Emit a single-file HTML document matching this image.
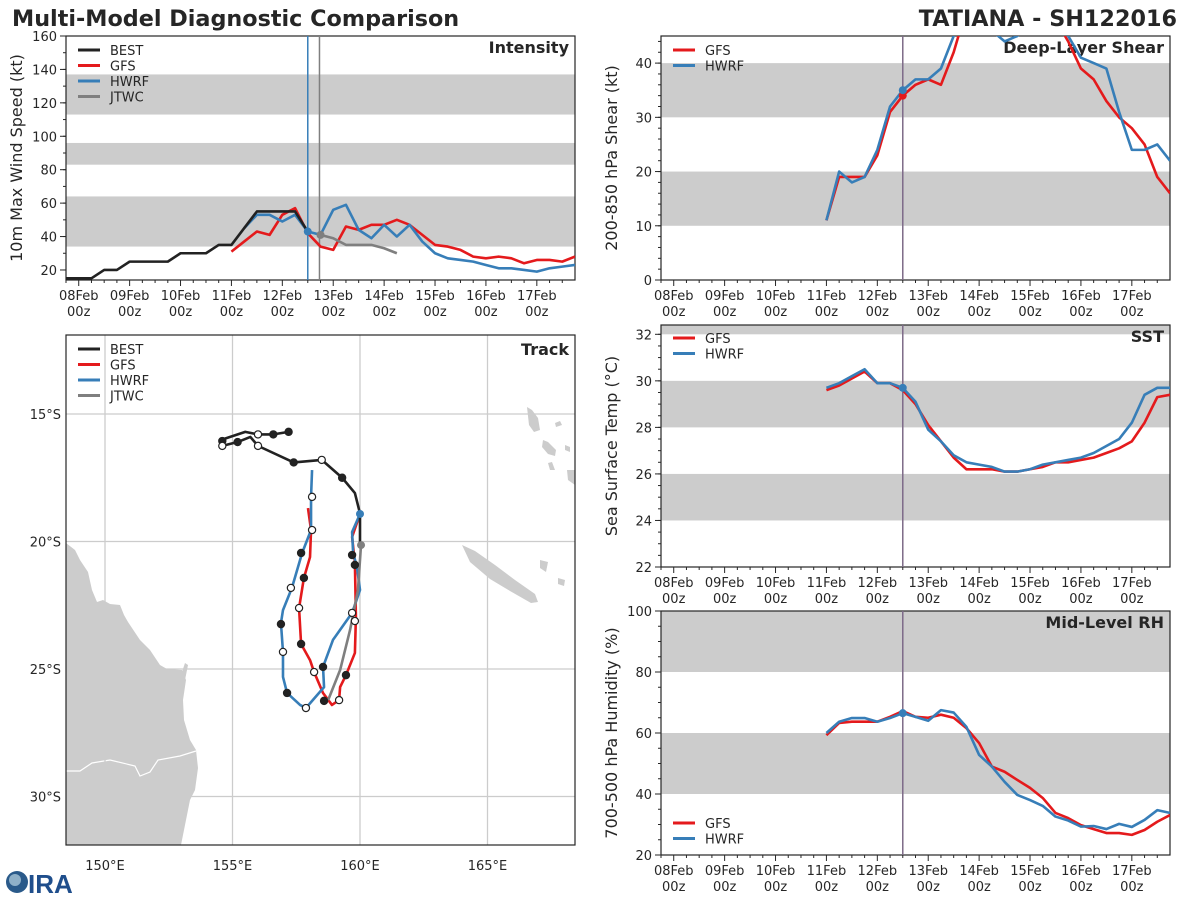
<!DOCTYPE html>
<html><head><meta charset="utf-8"><style>
html,body{margin:0;padding:0;background:#fff}
svg{display:block;font-family:"DejaVu Sans","Liberation Sans",sans-serif}
</style></head><body>
<svg id="c" width="1200" height="900" viewBox="0 0 1200 900">
<text x="12" y="26" font-size="22.3" font-weight="bold" fill="#262626">Multi-Model Diagnostic Comparison</text>
<text x="1177" y="26" font-size="22.3" font-weight="bold" fill="#262626" text-anchor="end">TATIANA - SH122016</text>
<g>
<circle cx="17" cy="882" r="11" fill="#2a5a8a"/><circle cx="15" cy="880" r="6" fill="#8fb0c8"/>
<text x="28" y="893" font-size="26" font-weight="bold" fill="#1f4e8c" font-family="Liberation Sans,sans-serif">IRA</text>
</g>
</svg>
<script>
// ---------- DATA ----------
const bestT2 = [-0.25,0,0.25,0.5,0.75,1,1.25,1.5,1.75,2,2.25,2.5,2.75,3,3.25,3.5,3.75,4,4.25,4.5];
const bestV2 = [15,15,15,20,20,25,25,25,25,30,30,30,35,35,45,55,55,55,55,43];
const gfsIntT = [3,3.25,3.5,3.75,4,4.25,4.5,4.75,5,5.25,5.5,5.75,6,6.25,6.5,6.75,7,7.25,7.5,7.75,8,8.25,8.5,8.75,9,9.25,9.5,9.75];
const gfsInt = [31,37,43,41,53,57,42,34,32,46,44,47,47,50,47,41,35,34,32,28,27,28,27,24,26,26,25,28];
const hwrfIntT = [3.25,3.5,3.75,4,4.25,4.5,4.75,5,5.25,5.5,5.75,6,6.25,6.5,6.75,7,7.25,7.5,7.75,8,8.25,8.5,8.75,9,9.25,9.5,9.75];
const hwrfInt = [45,53,53,49,53,43,41,56,59,44,39,47,40,47,37,30,27,26,25,23,21,21,20,19,21,22,23];
const jtwcT = [4.75,5,5.25,5.5,5.75,6,6.25];
const jtwcInt = [41,39,35,35,35,33,30];

const modT = [3,3.25,3.5,3.75,4,4.25,4.5,4.75,5,5.25,5.5,5.75,6,6.25,6.5,6.75,7,7.25,7.5,7.75,8,8.25,8.5,8.75,9,9.25,9.5,9.75];
const gfsShear = [11,19,19,19,23,31,34,36,37,36,42,50,52,54,55,54,52,50,48,44,39,37,33,30,28,25,19,16];
const hwrfShear = [11,20,18,19,24,32,35,37,37,39,45,52,48,46,44,45,47,48,47,45,41,40,39,31,24,24,25,22];
const gfsSst = [29.6,29.8,30.1,30.4,29.9,29.9,29.6,29.0,28.1,27.4,26.7,26.2,26.2,26.2,26.1,26.1,26.2,26.3,26.5,26.5,26.6,26.7,26.9,27.1,27.4,28.2,29.3,29.4];
const hwrfSst = [29.7,29.9,30.2,30.5,29.9,29.9,29.7,29.1,27.9,27.4,26.8,26.5,26.4,26.3,26.1,26.1,26.2,26.4,26.5,26.6,26.7,26.9,27.2,27.5,28.2,29.4,29.7,29.7];
const gfsRh = [59.3,63.3,63.7,63.7,63.7,65.3,67.2,65.3,65,66,65,61.6,56.7,49,47.3,44.6,42,38.7,33.8,32.1,29.8,28.5,27.2,27.2,26.6,28.2,30.9,33.1];
const hwrfRh = [60,63.7,64.9,64.9,63.7,64.9,66.5,65.3,64,67.5,66.7,62,52.8,49,44,39.7,38,36.1,32.6,31.3,29.3,29.5,28.5,30.2,29.2,31.5,34.7,33.8];

const bestLon = [157.2,156.6,156.0,155.5,154.6,154.6,155.2,155.7,156.0,157.4,158.5,159.3,159.8,160.0,160.0];
const bestLat = [15.7,15.8,15.8,15.7,16.0,16.25,16.1,15.9,16.25,16.9,16.8,17.5,18.1,18.9,20.1];
const gfsLon = [160.0,159.88,159.69,159.80,159.84,159.80,159.45,159.22,159.18,158.90,158.55,158.20,158.04,157.69,157.61,157.80,158.04,158.08,157.96];
const gfsLat = [18.92,19.27,19.82,20.84,22.96,24.37,25.24,25.71,26.22,26.41,25.94,25.12,24.65,24.02,22.61,21.43,20.61,19.55,18.69];
const hwrfLon = [160.0,159.69,159.73,159.88,160.0,159.69,158.94,158.55,158.59,157.88,157.65,157.14,156.98,156.98,156.90,156.98,157.33,157.73,158.08,158.08,158.12];
const hwrfLat = [18.92,19.63,20.45,21.0,21.9,22.8,23.86,24.92,25.71,26.53,26.41,25.94,25.31,24.33,23.2,22.69,21.82,20.45,19.55,18.25,17.2];
const jtwcLon = [160.04,159.92,159.61,159.22,158.75];
const jtwcLat = [20.14,21.9,23.47,25.04,26.22];
const mkLon = [157.2,156.6,154.6,155.2,157.4,159.3,156.0,154.6,156.0,158.5,
  157.69,157.80,156.90,157.69,157.14,158.59,158.55,159.45,159.80,159.69,
  158.12,158.12,157.29,157.61,156.98,158.20,157.88,159.18,159.69,159.80];
const mkLat = [15.7,15.8,16.06,16.1,16.9,17.5,15.8,16.25,16.25,16.8,
  20.45,21.43,23.24,24.02,25.94,26.25,24.92,25.24,20.92,20.53,
  18.25,19.55,21.82,22.61,24.33,25.12,26.53,26.22,22.80,23.12];
const mkFilled = [1,1,1,1,1,1,0,0,0,0, 1,1,1,1,1,1,1,1,1,1, 0,0,0,0,0,0,0,0,0,0];

const dayLabels = ['08Feb','09Feb','10Feb','11Feb','12Feb','13Feb','14Feb','15Feb','16Feb','17Feb'];
const intTicks = [20,40,60,80,100,120,140,160];
const shearTicks = [0,10,20,30,40];
const sstTicks = [22,24,26,28,30,32];
const rhTicks = [20,40,60,80,100];
const latTicks = [15,20,25,30];
const lonTicks = [150,155,160,165];

// ---------- DRAW ----------
const NS='http://www.w3.org/2000/svg';
const svg=document.getElementById('c');
const RED='#e41a1c', BLUE='#377eb8', BLK='#222', GRY='#7f7f7f', BAND='#cccccc', TXT='#262626';
function mk(tag,attrs,parent){const e=document.createElementNS(NS,tag);for(const k in attrs)e.setAttribute(k,attrs[k]);(parent||svg).appendChild(e);return e;}
function txt(s,attrs,parent){const e=mk('text',attrs,parent);e.textContent=s;return e;}

function panel(name,L,T,R,B,y0,y1,bands,ticks,minorStep,title,ytitle,legend,legY){
  const g=mk('g',{});
  
  
  const X=t=>L+ (t+0.25)/(10)*(R-L);
  const Y=v=>B-(v-y0)/(y1-y0)*(B-T);
  const cid='clip-'+name;
  const cp=mk('clipPath',{id:cid},g);mk('rect',{x:L,y:T,width:R-L,height:B-T},cp);
  bands.forEach(b=>{const r=mk('rect',{x:L,y:Y(Math.min(b[1],y1)),width:R-L,height:Y(b[0])-Y(Math.min(b[1],y1)),fill:BAND,'clip-path':`url(#${cid})`},g);
    });
  mk('rect',{x:L,y:T,width:R-L,height:B-T,fill:'none',stroke:TXT,'stroke-width':1.2},g);
  for(let i=0;i<40;i++){const t=-0.25+i*0.25;if(t>9.75)break;const x=X(t);const maj=(i-1)%4===0;
    mk('line',{x1:x,y1:B,x2:x,y2:B+(maj?6:3),stroke:TXT,'stroke-width':1},g);}
  dayLabels.forEach((d,i)=>{const x=X(i);
    const a=txt(d,{x:x,y:B+20,'font-size':13,'text-anchor':'middle',fill:TXT},g);
    
    txt('00z',{x:x,y:B+36,'font-size':13,'text-anchor':'middle',fill:TXT},g);});
  for(let v=Math.ceil(y0/minorStep)*minorStep;v<=y1;v+=minorStep){mk('line',{x1:L-3,y1:Y(v),x2:L,y2:Y(v),stroke:TXT},g);}
  ticks.forEach(v=>{mk('line',{x1:L-6,y1:Y(v),x2:L,y2:Y(v),stroke:TXT},g);
    const a=txt(String(v),{x:L-9,y:Y(v)+5,'font-size':13,'text-anchor':'end',fill:TXT},g);
    });
  const tt=txt(title,{x:R-6,y:T+17,'font-size':16,'font-weight':'bold','text-anchor':'end',fill:TXT},g);
  
  const cy=(T+B)/2, cx=L-44;
  const yt=txt(ytitle,{x:cx,y:cy,'font-size':16,'text-anchor':'middle',fill:TXT,transform:`rotate(-90 ${cx} ${cy})`},g);
  
  legend.forEach((l,i)=>{const y=legY+i*15.5;
    mk('line',{x1:L+12,y1:y,x2:L+34,y2:y,stroke:l[1],'stroke-width':3},g);
    const a=txt(l[0],{x:L+44,y:y+5,'font-size':13,fill:TXT},g);
    });
  const line=(ts,vs,col,nm)=>{const p=mk('polyline',{points:ts.map((t,i)=>X(t)+','+Y(vs[i])).join(' '),fill:'none',stroke:col,'stroke-width':2.6,'stroke-linejoin':'round','clip-path':`url(#${cid})`},g);
    return p;};
  const vline=(t,col)=>mk('line',{x1:X(t),y1:T,x2:X(t),y2:B,stroke:col,'stroke-width':1.5},g);
  const dot=(t,v,col)=>mk('circle',{cx:X(t),cy:Y(v),r:4,fill:col,'clip-path':`url(#${cid})`},g);
  return {g,X,Y,line,vline,dot};
}

const pI=panel('intensity',66,36,575,280,14,160,[[34,64],[83,96],[113,137]],intTicks,10,'Intensity','10m Max Wind Speed (kt)',[['BEST',BLK],['GFS',RED],['HWRF',BLUE],['JTWC',GRY]],50);
pI.vline(4.5,BLUE);pI.vline(4.73,GRY);
pI.line(gfsIntT,gfsInt,RED,'gfs-intensity-line');
pI.line(hwrfIntT,hwrfInt,BLUE,'hwrf-intensity-line');
pI.line(bestT2,bestV2,BLK,'best-intensity-line');
pI.line(jtwcT,jtwcInt,GRY,'jtwc-intensity-line');
pI.dot(4.5,43,BLUE);pI.dot(4.75,jtwcInt[0],GRY);

const pS=panel('shear',661,36,1170,280,0,45,[[10,20],[30,40]],shearTicks,2,'Deep-Layer Shear','200-850 hPa Shear (kt)',[['GFS',RED],['HWRF',BLUE]],50);
pS.vline(4.5,'#7d6a88');
pS.line(modT,gfsShear,RED,'gfs-shear-line');pS.line(modT,hwrfShear,BLUE,'hwrf-shear-line');
pS.dot(4.5,gfsShear[6],RED);pS.dot(4.5,hwrfShear[6],BLUE);

const pT=panel('sst',661,325,1170,567,22,32.4,[[24,26],[28,30],[32,34]],sstTicks,0.5,'SST','Sea Surface Temp (°C)',[['GFS',RED],['HWRF',BLUE]],338);
pT.vline(4.5,'#7d6a88');
pT.line(modT,gfsSst,RED,'gfs-sst-line');pT.line(modT,hwrfSst,BLUE,'hwrf-sst-line');
pT.dot(4.5,hwrfSst[6],BLUE);

const pR=panel('rh',661,611,1170,855,20,100,[[40,60],[80,100]],rhTicks,5,'Mid-Level RH','700-500 hPa Humidity (%)',[['GFS',RED],['HWRF',BLUE]],823);
pR.vline(4.5,'#7d6a88');
pR.line(modT,gfsRh,RED,'gfs-rh-line');pR.line(modT,hwrfRh,BLUE,'hwrf-rh-line');
pR.dot(4.5,hwrfRh[6],BLUE);

(function(){
  const L=66,T=335,R=575,B=845;
  const g=mk('g',{});
  const X=lon=>105+(lon-150)*25.5, Y=lat=>414+(lat-15)*25.5;
  const cp=mk('clipPath',{id:'clip-track'},g);mk('rect',{x:L,y:T,width:R-L,height:B-T},cp);
  const land=mk('g',{'clip-path':'url(#clip-track)',fill:'#cccccc'},g);
  
  mk('polygon',{points:'66,543 75,550 80,560 88,572 92,590 97,602 103,600 110,604 120,605 124,615 128,622 140,640 150,650 160,665 167,669 182,670 186,680 183,700 184,720 190,740 196,750 198,768 195,790 190,800 184,830 181,845 66,845'},land);
  mk('polygon',{points:'185,663 188,665 184,685 182,672'},land);
  mk('polyline',{points:'66,771 80,771 92,763 110,760 135,766 140,776 150,772 158,760 180,756 196,751',fill:'none',stroke:'#fff','stroke-width':1.2},land);
  mk('polygon',{points:'462,545 475,551 495,565 515,580 535,594 538,602 531,603 510,591 490,579 470,562'},land);
  mk('polygon',{points:'527,407 532,410 538,418 540,430 534,432 529,425'},land);
  mk('polygon',{points:'543,440 548,442 556,450 555,456 548,454 542,447'},land);
  mk('polygon',{points:'555,423 560,421 562,425 556,427'},land);
  mk('polygon',{points:'565,445 570,447 570,452 565,450'},land);
  mk('polygon',{points:'567,470 575,470 575,485 568,480'},land);
  mk('polygon',{points:'548,463 552,462 555,470 550,470'},land);
  mk('polygon',{points:'540,560 548,562 546,572 540,568'},land);
  mk('polygon',{points:'558,578 565,580 564,586 558,584'},land);
  lonTicks.forEach(lon=>{mk('line',{x1:X(lon),y1:T,x2:X(lon),y2:B,stroke:'#cccccc','stroke-width':1.3},g);
    const a=txt(lon+'°E',{x:X(lon),y:870,'font-size':13,'text-anchor':'middle',fill:TXT},g);
    });
  latTicks.forEach(lat=>{mk('line',{x1:L,y1:Y(lat),x2:R,y2:Y(lat),stroke:'#cccccc','stroke-width':1.3},g);
    const a=txt(lat+'°S',{x:61,y:Y(lat)+5,'font-size':13,'text-anchor':'end',fill:TXT},g);
    });
  mk('rect',{x:L,y:T,width:R-L,height:B-T,fill:'none',stroke:TXT,'stroke-width':1.2},g);
  const tr=(lo,la,col,nm)=>{const p=mk('polyline',{points:lo.map((v,i)=>X(v)+','+Y(la[i])).join(' '),fill:'none',stroke:col,'stroke-width':2.6,'stroke-linejoin':'round','clip-path':'url(#clip-track)'},g);
    };
  tr(gfsLon,gfsLat,RED,'gfs-track');
  tr(hwrfLon,hwrfLat,BLUE,'hwrf-track');
  tr(jtwcLon,jtwcLat,GRY,'jtwc-track');
  tr(bestLon,bestLat,BLK,'best-track');
  mkLon.forEach((lo,i)=>{const c=mk('circle',{cx:X(lo),cy:Y(mkLat[i]),r:3.6,fill:mkFilled[i]?BLK:'#fff',stroke:BLK,'stroke-width':1.2},g);
    });
  mk('circle',{cx:X(160.0),cy:Y(18.92),r:4,fill:BLUE},g);
  mk('circle',{cx:X(jtwcLon[0]),cy:Y(jtwcLat[0]),r:4,fill:GRY},g);
  const tt=txt('Track',{x:R-6,y:T+20,'font-size':16,'font-weight':'bold','text-anchor':'end',fill:TXT},g);
  
  [['BEST',BLK],['GFS',RED],['HWRF',BLUE],['JTWC',GRY]].forEach((l,i)=>{const y=349+i*15.5;
    mk('line',{x1:L+12,y1:y,x2:L+34,y2:y,stroke:l[1],'stroke-width':3},g);
    const a=txt(l[0],{x:L+44,y:y+5,'font-size':13,fill:TXT},g);
    });
})();
</script>
</body></html>
